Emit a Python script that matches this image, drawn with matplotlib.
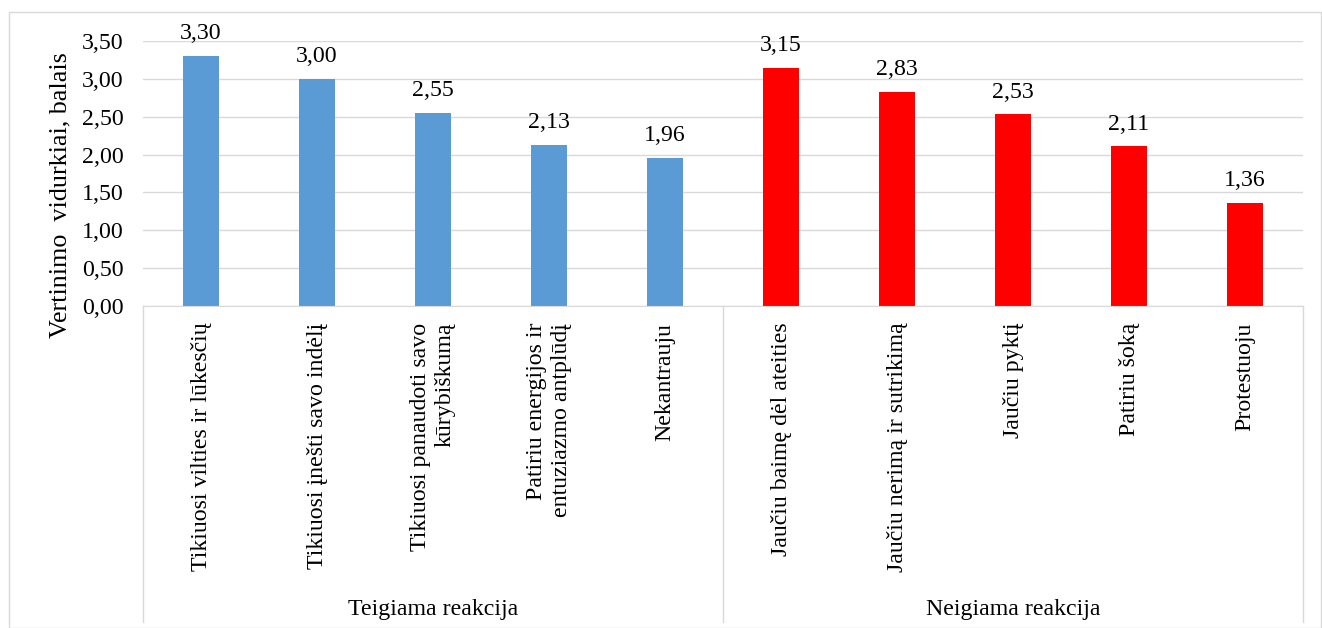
import matplotlib
matplotlib.use("Agg")
import matplotlib.pyplot as plt
from matplotlib.lines import Line2D
from matplotlib.patches import Rectangle
import matplotlib.transforms as mtransforms

plt.rcParams['font.family'] = ['Liberation Serif', 'DejaVu Serif']

categories = [
    "Tikiuosi vilties ir lūkesčių",
    "Tikiuosi įnešti savo indėlį",
    "Tikiuosi panaudoti savo\nkūrybiškumą",
    "Patiriu energijos ir\nentuziazmo antplūdį",
    "Nekantrauju",
    "Jaučiu baimę dėl ateities",
    "Jaučiu nerimą ir sutrikimą",
    "Jaučiu pyktį",
    "Patiriu šoką",
    "Protestuoju",
]
values = [3.30, 3.00, 2.55, 2.13, 1.96, 3.15, 2.83, 2.53, 2.11, 1.36]
groups = ["Teigiama reakcija", "Neigiama reakcija"]
group_sizes = [5, 5]
group_colors = ["#5B9BD5", "#FF0000"]
y_ticks = [0.0, 0.5, 1.0, 1.5, 2.0, 2.5, 3.0, 3.5]
y_label = "Vertinimo  vidurkiai, balais"

FS = 17.2
FS_CAT = 17.2
FS_YLABEL = 18.8

W, H = 1322, 628
fig = plt.figure(figsize=(W / 100, H / 100), dpi=100)
fig.patches.append(Rectangle((9 / W, 0), 1 - 9 / W - 1 / W, 1 - 12 / H, transform=fig.transFigure,
                             fill=False, edgecolor="#D9D9D9", linewidth=1))

left, right, top, bottom = 143, 1303, 41, 306
ax = fig.add_axes([left / W, 1 - bottom / H, (right - left) / W, (bottom - top) / H])

colors = []
for c, n in zip(group_colors, group_sizes):
    colors += [c] * n
x = list(range(len(values)))
bars = ax.bar(x, values, width=0.31, color=colors, zorder=3)

for xi, v in zip(x, values):
    ax.annotate(f"{v:.2f}".replace(".", ","), (xi, v), xytext=(0, 12), textcoords="offset points",
                ha="center", va="baseline", fontsize=FS, color="black")

ax.set_xlim(-0.5, len(values) - 0.5)
ax.set_ylim(0, 3.5)
ax.set_yticks(y_ticks)
ax.set_yticklabels([f"{t:.2f}".replace(".", ",") for t in y_ticks], fontsize=FS)
ax.grid(axis="y", color="#D9D9D9", linewidth=1, zorder=0)
ax.tick_params(axis="y", length=0, pad=14)
for s in ["top", "right", "left"]:
    ax.spines[s].set_visible(False)
ax.spines["bottom"].set_color("#D9D9D9")
ax.spines["bottom"].set_zorder(4)

ax.set_xticks(x)
ax.set_xticklabels(categories, rotation=90, ha="center", va="top", ma="right", fontsize=FS_CAT,
                   linespacing=1.2)
ax.tick_params(axis="x", length=0, pad=12)

ax.set_ylabel(y_label, fontsize=FS_YLABEL, va="center")
ax.yaxis.set_label_coords((60 - left) / (right - left), (bottom - 195) / (bottom - top))

trans = mtransforms.blended_transform_factory(ax.transData, ax.transAxes)
ax_h = bottom - top
line_bottom = -(622 - bottom) / ax_h
edges = [-0.5]
for n in group_sizes:
    edges.append(edges[-1] + n)
for e in edges:
    ax.add_line(Line2D([e, e], [0, line_bottom], transform=trans, color="#D9D9D9",
                       linewidth=1, clip_on=False))
label_y = -(609 - bottom) / ax_h
for i, g in enumerate(groups):
    ax.text((edges[i] + edges[i + 1]) / 2, label_y, g, transform=trans, ha="center", va="center",
            fontsize=FS)

fig.savefig("out.png", dpi=100)
